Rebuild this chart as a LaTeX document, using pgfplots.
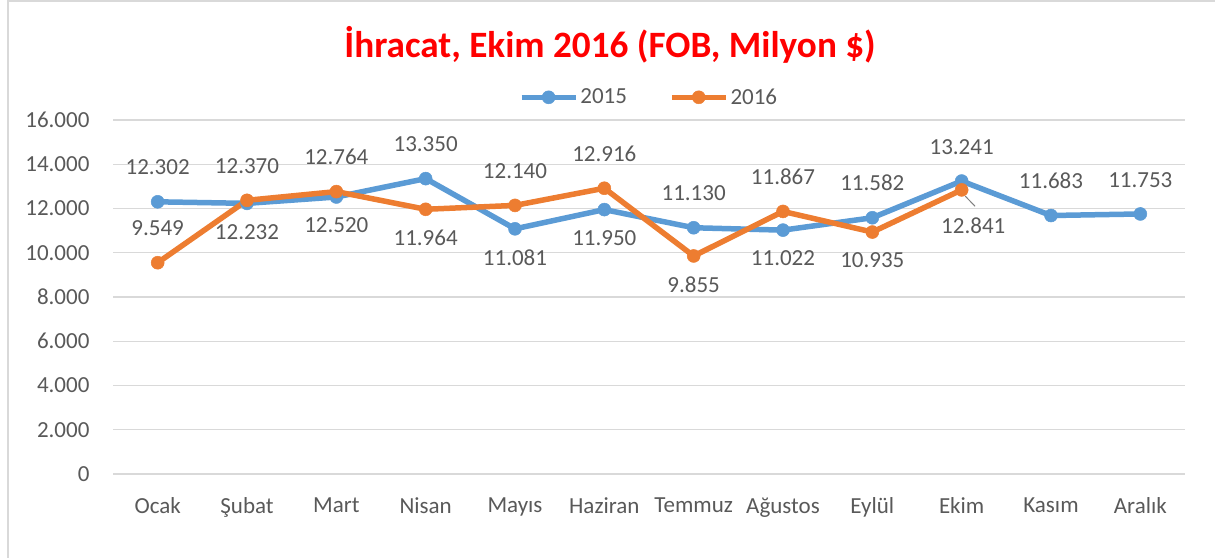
\documentclass[border=0pt]{standalone}
\usepackage{pgfplots}
\pgfplotsset{compat=1.18}
\usepackage{fontspec}
\setmainfont{Carlito}
\definecolor{blue15}{HTML}{5B9BD5}
\definecolor{orange16}{HTML}{ED7D31}
\definecolor{gridgray}{HTML}{D9D9D9}
\definecolor{textgray}{HTML}{595959}
\definecolor{bordergray}{HTML}{D9D9D9}
\newcommand{\lblfont}{\fontsize{23}{26}\selectfont}
\begin{document}
\begin{tikzpicture}[x=1pt,y=1pt]
\useasboundingbox (0,0) rectangle (1215,557);
\draw[bordergray, line width=1.5pt] (8,-5) -- (8,556) -- (1220,556);
\node[text=red, font=\fontsize{37.2}{44}\selectfont\bfseries] at (610,512) {İhracat, Ekim 2016 (FOB, Milyon \$)};
\begin{axis}[
  at={(113pt,83pt)}, anchor=south west,
  scale only axis, width=1072pt, height=354pt,
  xmin=-0.5, xmax=11.5, ymin=0, ymax=16000,
  xtick={0,1,...,11},
  xticklabels={Ocak,Şubat,Mart,Nisan,Mayıs,Haziran,Temmuz,Ağustos,Eylül,Ekim,Kasım,Aralık},
  ytick={0,2000,...,16000},
  scaled y ticks=false,
  yticklabel style={xshift=-20pt, /pgf/number format/.cd,1000 sep={.},assume math mode=true},
  ymajorgrids, grid style={draw=gridgray, line width=1.3pt},
  axis line style={draw=none}, major tick length=0pt,
  tick label style={font=\lblfont, text=textgray},
  xticklabel style={yshift=-20pt},
  clip=false,
  legend style={at={(0.5,1)}, anchor=south, yshift=10pt, draw=none, fill=none,
    font=\lblfont, text=textgray, legend columns=-1,
    /tikz/every even column/.append style={column sep=40pt}},
  legend image code/.code={\draw[mark repeat=2,mark phase=2,#1] plot coordinates {(0pt,0pt) (27pt,0pt) (54pt,0pt)};},
  every axis plot/.append style={line width=5.5pt},
  mark size=6.5pt,
  above lbl/.style={draw=none, mark=none, nodes near coords, point meta=explicit symbolic,
    every node near coord/.append style={font=\lblfont, text=textgray, anchor=south, inner sep=0pt, yshift=24pt}},
  below lbl/.style={draw=none, mark=none, nodes near coords, point meta=explicit symbolic,
    every node near coord/.append style={font=\lblfont, text=textgray, anchor=north, inner sep=0pt, yshift=-18pt}},
]
\addplot[color=blue15, mark=*, mark options={solid, line width=0.5pt}] coordinates {
 (0,12302) (1,12232) (2,12520) (3,13350) (4,11081) (5,11950)
 (6,11130) (7,11022) (8,11582) (9,13241) (10,11683) (11,11753)};
\addlegendentry{2015}
\addplot[color=orange16, mark=*, mark options={solid, line width=0.5pt}] coordinates {
 (0,9549) (1,12370) (2,12764) (3,11964) (4,12140) (5,12916)
 (6,9855) (7,11867) (8,10935) (9,12841)};
\addlegendentry{2016}
% data labels 2015
\addplot[above lbl, forget plot] table[meta=l] {
x y l
0 12302 12.302
3 13350 13.350
6 11130 11.130
8 11582 11.582
9 13241 13.241
10 11683 11.683
11 11753 11.753
};
\addplot[below lbl, forget plot] table[meta=l] {
x y l
1 12232 12.232
2 12520 12.520
4 11081 11.081
5 11950 11.950
7 11022 11.022
};
% data labels 2016
\addplot[above lbl, forget plot] table[meta=l] {
x y l
0 9549 9.549
1 12370 12.370
2 12764 12.764
4 12140 12.140
5 12916 12.916
7 11867 11.867
};
\addplot[below lbl, forget plot] table[meta=l] {
x y l
3 11964 11.964
6 9855 9.855
8 10935 10.935
};
\draw[gray, line width=1pt] (axis cs:9.04,12560) -- (axis cs:9.15,12100);
\node[font=\lblfont, text=textgray] at (axis cs:9.13,11209) {12.841};
\end{axis}
\end{tikzpicture}
\end{document}
